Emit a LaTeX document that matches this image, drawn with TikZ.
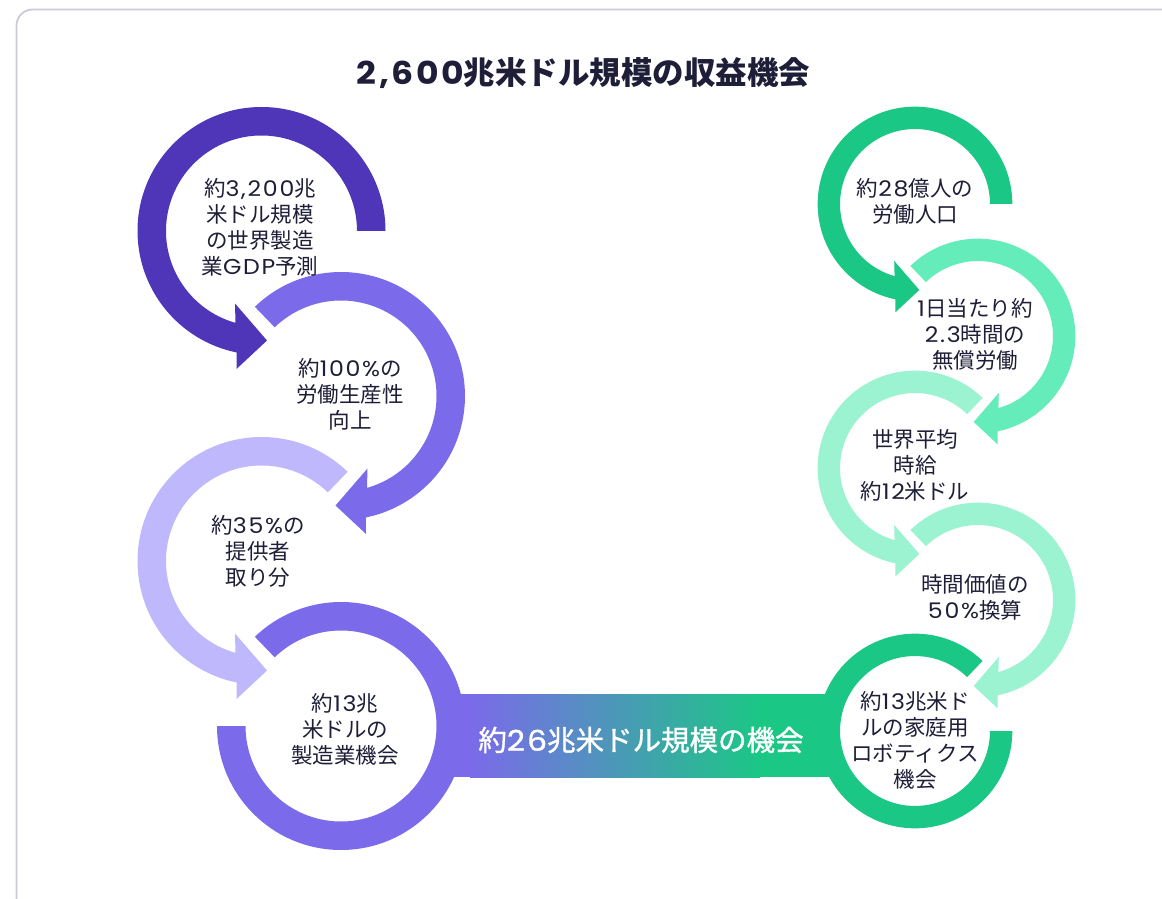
\documentclass[tikz,border=0pt]{standalone}
\usepackage{fontspec}
\setmainfont{Noto Sans CJK JP}
\newfontfamily\lat{Poppins}[FakeStretch=1.1, LetterSpace=8]
\newfontfamily\cjkmed{Noto Sans CJK JP}[FakeBold=1.2]
\newfontfamily\latmed{Poppins}[FakeStretch=1.1, LetterSpace=8, FakeBold=1.2]
\definecolor{pA}{HTML}{4F36B9}
\definecolor{pB}{HTML}{7B6AEA}
\definecolor{pC}{HTML}{C0B8FC}
\definecolor{gA}{HTML}{1BC785}
\definecolor{gB}{HTML}{64ECBA}
\definecolor{gC}{HTML}{9BF3D2}
\definecolor{ink}{HTML}{1E1E38}
\definecolor{framec}{HTML}{CBCADB}
% #1 centre, #2 scale, #3 xscale, #4 start angle, #5 colour
\newcommand{\arrring}[5]{%
  \begin{scope}[shift={#1}, scale=#2, xscale=#3]
    \fill[#5] (#4:124) arc[start angle=#4, end angle=258.4, radius=124]
      -- (-25,-138) -- (5.5,-109.5) -- (-26.5,-72.5)
      -- (254.2:95.5) arc[start angle=254.2, end angle=#4, radius=95.5] -- cycle;
  \end{scope}}
\tikzset{
  lbl/.style={text=ink, align=center, inner sep=0pt, font=\fontsize{21.5}{26}\selectfont},
  titlelbl/.style={text=ink, inner sep=0pt, font=\fontsize{31.5}{35}\selectfont\bfseries},
  barlbl/.style={text=white, inner sep=0pt, font=\fontsize{28.5}{32}\selectfont\cjkmed}
}
\begin{document}
\begin{tikzpicture}[x=1pt,y=1pt]
\useasboundingbox (0,0) rectangle (1162,898);
\clip (0,0) rectangle (1162,898);
\fill[white] (0,0) rectangle (1162,898);
\draw[framec, line width=1.8pt, rounded corners=16pt] (16.5,-60) rectangle (1220,888.5);

\node[titlelbl] (title) at (583.5,825) {{\lat\bfseries 2,600}兆米ドル規模の収益機会};

% connecting bar
\fill[pB] (438,121) rectangle (472,204);
\fill[gA] (758,121) rectangle (839,204);
\shade[left color=pB, right color=gA] (470,121) rectangle (760,204);

% left chain
\arrring{(261.5,667)}{1}{1}{0}{pA}
\arrring{(341,502)}{1}{-1}{46}{pB}
\arrring{(261.5,337)}{1}{1}{46}{pC}
\begin{scope}[shift={(341,172)}]
  \fill[pB] (180:124) arc[start angle=180, end angle=494, radius=124]
    -- (494:95.5) arc[start angle=494, end angle=180, radius=95.5] -- cycle;
\end{scope}

% right chain
\arrring{(915,694)}{0.785}{1}{0}{gA}
\arrring{(978,562)}{0.785}{-1}{46}{gB}
\arrring{(915,430)}{0.785}{1}{46}{gC}
\arrring{(978,298)}{0.785}{-1}{46}{gC}
\begin{scope}[shift={(915,167)}, scale=0.785]
  \fill[gA] (46:124) arc[start angle=46, end angle=360, radius=124]
    -- (360:95.5) arc[start angle=360, end angle=46, radius=95.5] -- cycle;
\end{scope}

% labels
\node[lbl] (t1) at (260,671) {約{\lat 3,200}兆\\米ドル規模\\の世界製造\\業{\lat GDP}予測};
\node[lbl] (t2) at (350,504) {約{\lat 100\%}の\\労働生産性\\向上};
\node[lbl] (t3) at (258,347) {約{\lat 35\%}の\\提供者\\取り分};
\node[lbl] (t4) at (345,169) {約{\lat 13}兆\\米ドルの\\製造業機会};
\node[lbl] (ta) at (915,697) {約{\lat 28}億人の\\労働人口};
\node[lbl] (tb) at (975,564) {{\lat 1}日当たり約\\{\lat 2.3}時間の\\無償労働};
\node[lbl] (tc) at (915,433) {世界平均\\時給\\約{\lat 12}米ドル};
\node[lbl] (td) at (975,301) {時間価値の\\{\lat 50\%}換算};
\node[lbl] (te) at (915,158) {約{\lat 13}兆米ド\\ルの家庭用\\ロボティクス\\機会};
\node[barlbl] (tbar) at (641,158) {約{\latmed 26}兆米ドル規模の機会};
\end{tikzpicture}
\end{document}
